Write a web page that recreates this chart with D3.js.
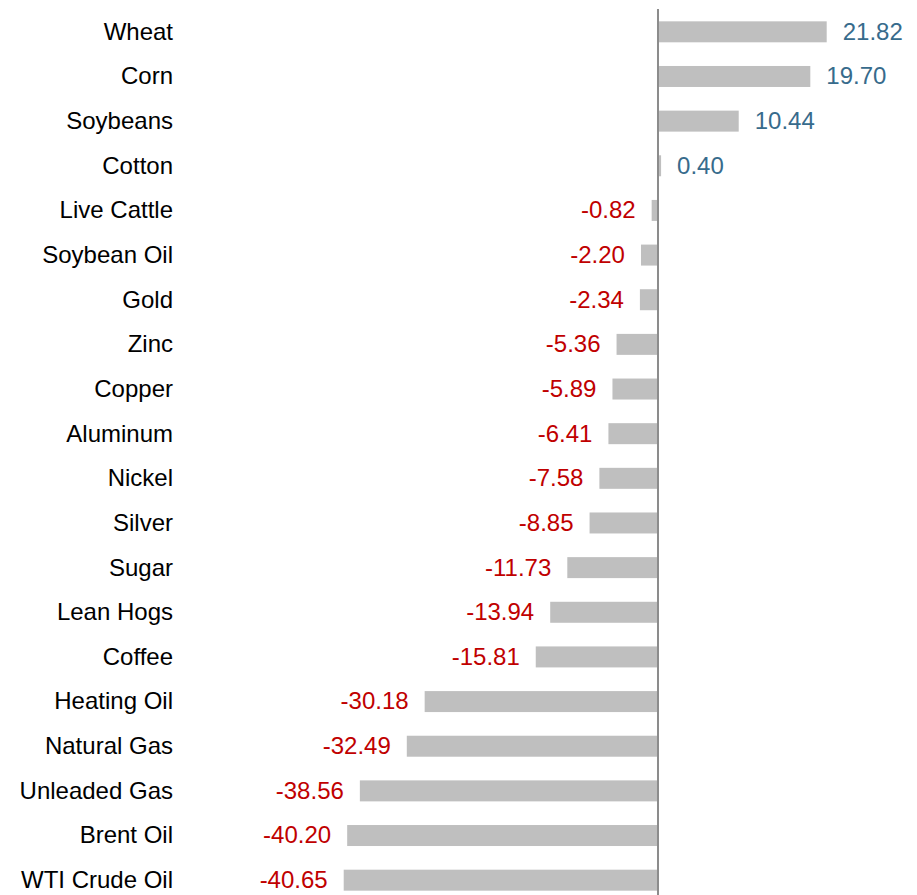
<!DOCTYPE html>
<html><head><meta charset="utf-8">
<script src="https://cdn.jsdelivr.net/npm/d3@7"></script>
<style>body{margin:0;background:#fff}</style>
</head><body>
<svg id="c" width="917" height="895"></svg>
<script>
const categories = ["Wheat","Corn","Soybeans","Cotton","Live Cattle","Soybean Oil","Gold","Zinc","Copper","Aluminum","Nickel","Silver","Sugar","Lean Hogs","Coffee","Heating Oil","Natural Gas","Unleaded Gas","Brent Oil","WTI Crude Oil"];
const values = [21.82,19.70,10.44,0.40,-0.82,-2.20,-2.34,-5.36,-5.89,-6.41,-7.58,-8.85,-11.73,-13.94,-15.81,-30.18,-32.49,-38.56,-40.20,-40.65];

const svg = d3.select("#c");
const x = d3.scaleLinear().domain([-40.65, 21.82]).range([343.7, 826.7]);
const y = d3.scaleBand().domain(categories).range([9.5, 902.5]).paddingInner(0.53).paddingOuter(0.265);
const font = "Liberation Sans, Arial, sans-serif";
const fs = 24;

svg.selectAll("rect.bar").data(categories).join("rect")
  .attr("class","bar")
  .attr("x", (d,i) => Math.min(x(0), x(values[i])))
  .attr("width", (d,i) => Math.abs(x(values[i]) - x(0)))
  .attr("y", d => y(d))
  .attr("height", y.bandwidth())
  .attr("fill", "#bfbfbf");

svg.append("line")
  .attr("x1", x(0)).attr("x2", x(0))
  .attr("y1", 9).attr("y2", 895)
  .attr("stroke", "#8c8c8c").attr("stroke-width", 2);

svg.selectAll("text.cat").data(categories).join("text")
  .attr("class","cat")
  .attr("x", 173)
  .attr("y", d => y(d) + y.bandwidth()/2 - 0.5)
  .attr("dy", "0.35em")
  .attr("text-anchor", "end")
  .attr("font-family", font).attr("font-size", fs)
  .attr("fill", "#000")
  .text(d => d);

svg.selectAll("text.val").data(categories).join("text")
  .attr("class","val")
  .attr("x", (d,i) => values[i] >= 0 ? x(values[i]) + 16 : x(values[i]) - 16)
  .attr("y", d => y(d) + y.bandwidth()/2 - 0.5)
  .attr("dy", "0.35em")
  .attr("text-anchor", (d,i) => values[i] >= 0 ? "start" : "end")
  .attr("font-family", font).attr("font-size", fs)
  .attr("fill", (d,i) => values[i] >= 0 ? "#376b8c" : "#c00000")
  .text((d,i) => values[i].toFixed(2));
</script>
</body></html>
